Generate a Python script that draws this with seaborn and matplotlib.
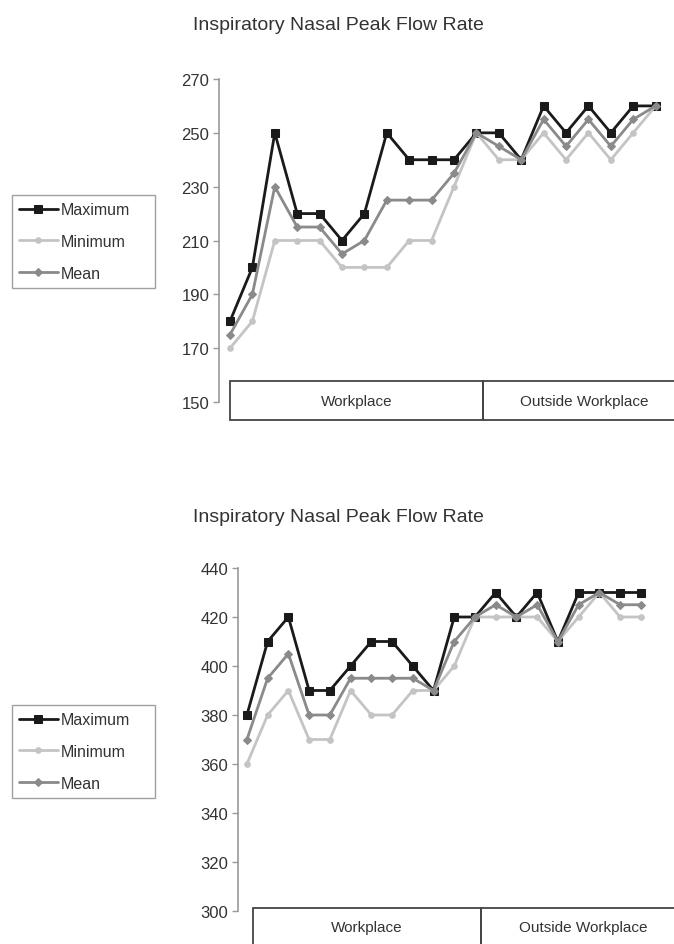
import numpy as np
import pandas as pd
import seaborn as sns
import matplotlib.pyplot as plt
from matplotlib.patches import Rectangle

sns.set_theme(style="white")
plt.rcParams['font.family'] = ['Liberation Sans Narrow', 'Liberation Sans', 'DejaVu Sans']

# data (20 daily readings each)
series = ["Maximum", "Minimum", "Mean"]
periods = ["Workplace", "Outside Workplace"]
period_days = [12, 8]

top_max = [180, 200, 250, 220, 220, 210, 220, 250, 240, 240, 240, 250, 250, 240, 260, 250, 260, 250, 260, 260]
top_min = [170, 180, 210, 210, 210, 200, 200, 200, 210, 210, 230, 250, 240, 240, 250, 240, 250, 240, 250, 260]
top_mean = [175, 190, 230, 215, 215, 205, 210, 225, 225, 225, 235, 250, 245, 240, 255, 245, 255, 245, 255, 260]

bot_max = [380, 410, 420, 390, 390, 400, 410, 410, 400, 390, 420, 420, 430, 420, 430, 410, 430, 430, 430, 430]
bot_min = [360, 380, 390, 370, 370, 390, 380, 380, 390, 390, 400, 420, 420, 420, 420, 410, 420, 430, 420, 420]
bot_mean = [370, 395, 405, 380, 380, 395, 395, 395, 395, 390, 410, 420, 425, 420, 425, 410, 425, 430, 425, 425]

title = "Inspiratory Nasal Peak Flow Rate"

colors = {"Maximum": "#1a1a1a", "Minimum": "#c4c4c4", "Mean": "#8a8a8a"}
markers = {"Maximum": "s", "Minimum": "o", "Mean": "D"}
msizes = {"Maximum": 5.5, "Minimum": 4, "Mean": 4.5}

W, H = 674, 945
fig = plt.figure(figsize=(W / 100, H / 100), dpi=100)


def px(x0, y0, x1, y1):
    # pixel box -> figure fraction rect
    return [x0 / W, 1 - y1 / H, (x1 - x0) / W, (y1 - y0) / H]


def panel(rect, vals, ylim, yticks, xlim, box_left, box_bottom, box_top, title_y, leg_y):
    ax = fig.add_axes(rect)
    df = pd.DataFrame({"day": np.tile(np.arange(len(vals[0])), 3),
                       "value": np.concatenate(vals),
                       "series": np.repeat(series, len(vals[0]))})
    for s in series:
        sub = df[df["series"] == s]
        sns.lineplot(data=sub, x="day", y="value", ax=ax, color=colors[s],
                     marker=markers[s], markersize=msizes[s], linewidth=2,
                     markeredgecolor=colors[s], label=s)
    ax.set_ylim(*ylim)
    ax.set_xlim(*xlim)
    ax.set_yticks(yticks)
    ax.set_xticks([])
    ax.set_xlabel("")
    ax.set_ylabel("")
    for sp in ["top", "right", "bottom"]:
        ax.spines[sp].set_visible(False)
    ax.spines["left"].set_color("#999999")
    ax.spines["left"].set_linewidth(1.2)
    ax.tick_params(axis="y", left=True, length=4, width=1, color="#999999",
                   labelsize=12, labelcolor="#333333", pad=3)

    # period boxes under the lines
    edges = [box_left]
    for n in np.cumsum(period_days):
        edges.append(n - 0.7)
    edges[-1] = xlim[1] + 0.5
    for i, p in enumerate(periods):
        ax.add_patch(Rectangle((edges[i], box_bottom), edges[i + 1] - edges[i],
                               box_top - box_bottom, fill=False, edgecolor="#444444",
                               linewidth=1.3, clip_on=False))
        ax.text((edges[i] + edges[i + 1]) / 2, (box_bottom + box_top) / 2, p,
                ha="center", va="center", fontsize=11, color="#333333")

    handles, labels = ax.get_legend_handles_labels()
    ax.legend_.remove()
    leg = fig.legend(handles, labels, loc="upper left",
                     bbox_to_anchor=(12 / W, 1 - (leg_y + 95) / H, 143 / W, 95 / H),
                     mode="expand", fontsize=11.5,
                     frameon=True, fancybox=False, edgecolor="#888888",
                     handlelength=2.4, labelspacing=1.05, borderpad=0.45,
                     handletextpad=0.2, borderaxespad=0)
    leg.get_frame().set_linewidth(1)
    for t in leg.get_texts():
        t.set_color("#333333")

    fig.text(338 / W, 1 - title_y / H, title, ha="center", va="center",
             fontsize=14, color="#333333")
    return ax


panel(px(219, 80, 674, 403), [top_max, top_min, top_mean], (150, 270),
      range(150, 271, 20), (-0.49, 19.82), 0.0, 143.3, 157.8, 25, 196)
panel(px(238, 569, 674, 912), [bot_max, bot_min, bot_mean], (300, 440),
      range(300, 441, 20), (-0.43, 20.6), 0.29, 286, 301.2, 518, 706)

fig.savefig("out.png", dpi=100)
